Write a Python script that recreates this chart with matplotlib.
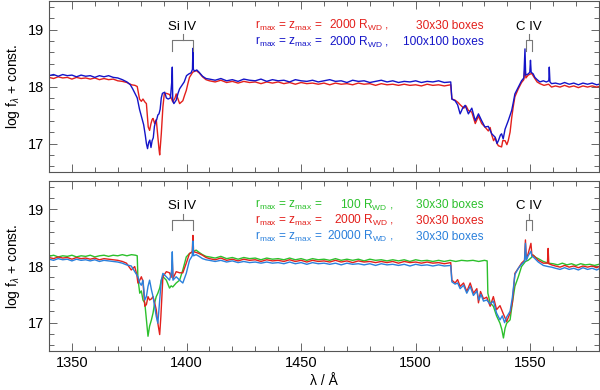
import numpy as np
import matplotlib
matplotlib.use("Agg")
import matplotlib.pyplot as plt
from matplotlib.ticker import MultipleLocator

plt.rcParams['font.family'] = ['Liberation Sans', 'DejaVu Sans']
plt.rcParams['mathtext.fontset'] = 'custom'
plt.rcParams['mathtext.rm'] = 'Liberation Sans'
plt.rcParams['mathtext.it'] = 'Liberation Sans:italic'
plt.rcParams['mathtext.bf'] = 'Liberation Sans:bold'

# ---------------- data (wavelength [A], log f) ----------------
TOP_RED = [(1340,18.16),(1342,18.14),(1344,18.17),(1346,18.15),(1348,18.16),(1350,18.13),(1352,18.16),(1354,18.14),(1356,18.15),(1358,18.13),(1360,18.15),(1362,18.12),(1364,18.14),(1366,18.12),(1368,18.13),(1370,18.10),(1372,18.09),(1374,18.07),(1376,18.03),(1377.5,18.02),(1378.5,18.00),(1379.5,17.78),(1380.3,17.74),(1381,17.78),(1381.8,17.73),(1382.5,17.70),(1383,17.45),(1383.3,17.29),(1383.9,17.23),(1384.5,17.35),(1385,17.42),(1385.4,17.44),(1386.1,17.35),(1386.8,17.42),(1387.5,17.11),(1388.0,16.90),(1388.3,16.80),(1388.7,17.00),(1389,17.17),(1389.7,17.64),(1390.3,17.87),(1391.2,17.88),(1392.6,17.86),(1393.3,17.80),(1394,17.73),(1395,17.80),(1395.5,17.87),(1396.3,17.78),(1397,17.70),(1398.4,17.75),(1399.2,17.85),(1399.9,17.93),(1400.6,18.05),(1401.3,18.16),(1402.7,18.25),(1404.2,18.28),(1405.5,18.24),(1407,18.17),(1408.5,18.12),
           (1410,18.10),(1412.5,18.08),(1415,18.11),(1417.5,18.07),(1420,18.09),(1422.5,18.06),(1425,18.09),(1427.5,18.07),(1430,18.08),(1432.5,18.05),(1435,18.08),(1437.5,18.06),(1440,18.08),(1442.5,18.05),(1445,18.07),(1447.5,18.04),(1450,18.07),(1452.5,18.05),(1455,18.06),(1457.5,18.04),(1460,18.06),(1462.5,18.03),(1465,18.06),(1467.5,18.04),(1470,18.05),(1472.5,18.03),(1475,18.06),(1477.5,18.04),(1480,18.05),(1482.5,18.02),(1485,18.05),(1487.5,18.03),(1490,18.04),(1492.5,18.02),(1495,18.04),(1497.5,18.02),(1500,18.03),(1502.5,18.01),(1505,18.04),(1507.5,18.02),(1510,18.03),(1512.5,18.01),(1515.3,18.03),
           (1515.8,17.78),(1517.2,17.76),(1518.5,17.72),(1519.4,17.68),(1521,17.62),(1522,17.66),(1523,17.58),(1524.5,17.55),(1526,17.35),(1527.4,17.48),(1528.8,17.35),(1530,17.30),(1531.7,17.22),(1532.5,17.28),(1533.2,17.15),(1534,17.05),(1534.7,17.10),(1535.5,17.00),(1536.1,16.96),(1537.5,16.94),(1538,17.05),(1539,17.05),(1539.8,16.98),(1540.4,17.05),(1541.2,17.20),(1541.9,17.45),(1542.6,17.65),(1543.3,17.82),(1544.8,17.96),(1546.2,18.07),(1547.2,18.12),(1547.7,18.34),(1548.1,18.15),(1549.1,18.20),(1550.6,18.23),(1552,18.14),(1553,18.08),(1554.2,18.05),(1556,18.02),(1558,18.04),(1559.3,17.99),
           (1561,18.01),(1563,17.99),(1565,18.02),(1567,17.99),(1569,18.01),(1571,17.98),(1573,18.01),(1575,17.99),(1577,18.01),(1579,17.99),(1580,18.00)]

TOP_BLUE = [(1340,18.19),(1342,18.21),(1344,18.18),(1346,18.21),(1348,18.19),(1350,18.20),(1352,18.17),(1354,18.20),(1356,18.18),(1358,18.19),(1360,18.16),(1362,18.19),(1364,18.17),(1366,18.19),(1368,18.16),(1370,18.15),(1372,18.12),
            (1374,18.08),(1375.5,18.03),(1376.5,17.96),(1377.5,17.88),(1378.5,17.80),(1379.5,17.60),(1380.5,17.45),(1381.3,17.33),(1382,17.15),(1382.5,17.00),(1383,16.91),(1383.5,17.02),(1384,17.06),(1384.5,16.93),(1385,17.05),(1385.5,17.10),(1386,17.30),(1386.5,17.38),(1387,17.42),(1387.5,17.50),(1388,17.52),(1388.5,17.60),(1389,17.80),(1389.5,17.88),(1390.5,17.90),(1391.2,17.80),(1392,17.78),(1393,17.80),(1393.6,18.10),(1393.8,18.34),(1394.0,17.75),(1394.5,17.70),(1395.5,17.76),(1396.3,17.88),(1397,17.96),(1398,18.02),(1399,18.08),(1400,18.19),(1401,18.22),(1402,18.24),(1402.6,18.30),(1402.8,18.67),(1403.0,18.30),(1403.5,18.27),(1404.5,18.29),(1405.5,18.25),(1407,18.18),(1408.5,18.14),
            (1410,18.13),(1412.5,18.11),(1415,18.14),(1417.5,18.10),(1420,18.12),(1422.5,18.09),(1425,18.13),(1427.5,18.11),(1430,18.10),(1432.5,18.13),(1435,18.09),(1437.5,18.12),(1440,18.10),(1442.5,18.11),(1445,18.08),(1447.5,18.12),(1450,18.10),(1452.5,18.09),(1455,18.11),(1457.5,18.08),(1460,18.10),(1462.5,18.12),(1465,18.09),(1467.5,18.10),(1470,18.07),(1472.5,18.11),(1475,18.09),(1477.5,18.10),(1480,18.07),(1482.5,18.09),(1485,18.11),(1487.5,18.08),(1490,18.10),(1492.5,18.07),(1495,18.09),(1497.5,18.08),(1500,18.10),(1502.5,18.07),(1505,18.09),(1507.5,18.08),(1510,18.10),(1512.5,18.07),(1515.3,18.08),
            (1515.8,17.78),(1517.2,17.75),(1518.3,17.68),(1519.4,17.52),(1520.5,17.62),(1521.6,17.67),(1523,17.52),(1524.5,17.62),(1526,17.40),(1527.4,17.52),(1528.8,17.40),(1530.2,17.29),(1531.7,17.30),(1533.2,17.17),(1534.7,17.11),(1535.5,17.00),(1536.1,17.05),(1537,17.15),(1537.5,17.17),(1538.2,17.08),(1539,17.25),(1540.4,17.40),(1541.9,17.58),(1542.6,17.72),(1543.3,17.87),(1544.8,17.99),(1546.2,18.10),(1547.2,18.15),(1547.7,18.66),(1548,18.20),(1549.1,18.22),(1549.8,18.25),(1550.1,18.46),(1550.4,18.25),(1551.3,18.22),(1552,18.16),(1553,18.12),(1554.2,18.08),(1555.7,18.10),(1557,18.08),(1558.1,18.10),(1558.3,18.34),(1558.6,18.08),(1559.3,18.05),
            (1561,18.06),(1563,18.04),(1565,18.07),(1567,18.04),(1569,18.06),(1571,18.03),(1573,18.06),(1575,18.04),(1577,18.06),(1579,18.03),(1580,18.04)]

BOT_GREEN = [(1340,18.17),(1342,18.19),(1344,18.16),(1346,18.18),(1348,18.17),(1350,18.19),(1352,18.16),(1354,18.18),(1356,18.17),(1358,18.19),(1360,18.16),(1362,18.18),(1364,18.19),(1366,18.17),(1368,18.19),(1370,18.18),(1372,18.20),(1374,18.18),(1376,18.20),(1377.8,18.19),(1378.5,18.18),(1378.8,17.78),(1379.6,17.52),(1380.3,17.56),(1381,17.40),(1381.8,17.35),(1382.5,17.05),(1383.2,16.76),(1383.9,16.94),(1384.7,17.05),(1385.4,17.17),(1386.1,17.35),(1386.8,17.46),(1387.5,17.52),(1388.3,17.61),(1389,17.75),(1389.7,17.81),(1390.5,17.78),(1391.2,17.75),(1392.6,17.61),(1393.3,17.65),(1394,17.63),(1395.5,17.70),(1397,17.75),(1398.4,17.93),(1399.9,18.16),(1401.3,18.22),(1402.7,18.25),(1404.2,18.28),(1405.5,18.24),(1407,18.20),(1408.5,18.17),
             (1410,18.16),(1412.5,18.14),(1415,18.17),(1417.5,18.13),(1420,18.15),(1422.5,18.12),(1425,18.15),(1427.5,18.13),(1430,18.14),(1432.5,18.11),(1435,18.14),(1437.5,18.12),(1440,18.13),(1442.5,18.11),(1445,18.14),(1447.5,18.11),(1450,18.13),(1452.5,18.10),(1455,18.13),(1457.5,18.11),(1460,18.12),(1462.5,18.10),(1465,18.13),(1467.5,18.10),(1470,18.12),(1472.5,18.10),(1475,18.12),(1477.5,18.09),(1480,18.12),(1482.5,18.10),(1485,18.11),(1487.5,18.09),(1490,18.11),(1492.5,18.09),(1495,18.11),(1497.5,18.08),(1500,18.11),(1502.5,18.09),(1505,18.10),(1507.5,18.08),(1510,18.10),(1512.5,18.08),(1515,18.10),(1517.5,18.08),(1520,18.10),(1522.5,18.09),(1525,18.10),(1527.5,18.08),(1530,18.10),(1531.2,18.09),
             (1531.5,17.52),(1532.5,17.35),(1533.9,17.29),(1535.3,17.12),(1536.8,16.99),(1537.6,16.88),(1538.3,16.73),(1539,16.90),(1539.7,16.99),(1541.2,17.05),(1542.2,17.35),(1543.3,17.64),(1544.8,17.81),(1546.2,17.99),(1547.9,18.08),(1549.1,18.10),(1550.5,18.15),(1551.3,18.19),(1552.5,18.15),(1553.5,18.13),(1555.7,18.08),(1557.8,18.05),
             (1560,18.04),(1562,18.02),(1564,18.05),(1566,18.02),(1568,18.04),(1570,18.01),(1572,18.04),(1574,18.02),(1576,18.03),(1578,18.01),(1580,18.03)]

BOT_RED = [(1340,18.15),(1342,18.13),(1344,18.16),(1346,18.14),(1348,18.15),(1350,18.12),(1352,18.15),(1354,18.13),(1356,18.14),(1358,18.12),(1360,18.14),(1362,18.11),(1364,18.13),(1366,18.12),(1368,18.11),(1370,18.10),(1372,18.08),(1373.8,18.05),(1375.9,17.93),(1377.4,17.99),(1378.3,17.85),(1378.8,17.70),(1379.6,17.75),(1380.3,17.81),(1381,17.73),(1381.8,17.29),(1382.5,17.32),(1383.2,17.46),(1383.9,17.40),(1384.7,17.42),(1385.4,17.46),(1386.1,17.35),(1386.8,17.23),(1387.5,16.99),(1388.3,16.79),(1388.8,17.10),(1389.3,17.50),(1389.7,17.81),(1391.2,17.90),(1392.6,17.88),(1393.3,17.80),(1393.8,18.10),(1394.1,17.78),(1395.5,17.90),(1397,17.88),(1398.4,17.88),(1399.9,18.05),(1401.3,18.22),(1402.5,18.25),(1402.8,18.54),(1403.1,18.25),(1404.2,18.24),(1405.5,18.22),(1407,18.19),(1408.5,18.15),
           (1410,18.13),(1412.5,18.11),(1415,18.14),(1417.5,18.10),(1420,18.12),(1422.5,18.09),(1425,18.12),(1427.5,18.10),(1430,18.11),(1432.5,18.08),(1435,18.11),(1437.5,18.09),(1440,18.10),(1442.5,18.08),(1445,18.11),(1447.5,18.08),(1450,18.10),(1452.5,18.07),(1455,18.10),(1457.5,18.08),(1460,18.09),(1462.5,18.07),(1465,18.10),(1467.5,18.07),(1470,18.09),(1472.5,18.06),(1475,18.09),(1477.5,18.07),(1480,18.08),(1482.5,18.06),(1485,18.08),(1487.5,18.06),(1490,18.08),(1492.5,18.05),(1495,18.08),(1497.5,18.06),(1500,18.07),(1502.5,18.05),(1505,18.07),(1507.5,18.05),(1510,18.06),(1512.5,18.04),(1515.3,18.06),
           (1515.8,17.75),(1517.2,17.70),(1518.3,17.76),(1519.4,17.64),(1520.9,17.70),(1522.3,17.55),(1523.8,17.70),(1525.2,17.52),(1526.7,17.60),(1527.4,17.35),(1528.3,17.55),(1529.6,17.42),(1531,17.45),(1532.5,17.29),(1533.9,17.46),(1535.3,17.23),(1536.8,17.30),(1538.3,17.15),(1539.7,17.02),(1541.2,17.17),(1542.2,17.35),(1543.3,17.87),(1544.8,17.96),(1546.2,18.05),(1547.5,18.10),(1547.9,18.46),(1548.3,18.12),(1549.1,18.22),(1550.3,18.40),(1550.7,18.20),(1551.3,18.19),(1553.5,18.10),(1555.7,18.05),(1557.5,18.05),(1557.8,18.31),(1558.1,18.04),(1559.3,18.02),
           (1561,18.00),(1563,17.98),(1565,18.01),(1567,17.98),(1569,18.00),(1571,17.97),(1573,18.00),(1575,17.98),(1577,18.00),(1579,17.97),(1580,17.99)]

BOT_BLUE = [(1340,18.12),(1342,18.10),(1344,18.13),(1346,18.11),(1348,18.12),(1350,18.09),(1352,18.12),(1354,18.10),(1356,18.11),(1358,18.09),(1360,18.11),(1362,18.08),(1364,18.10),(1366,18.09),(1368,18.08),(1370,18.07),(1372,18.05),(1373.8,18.02),(1375.9,18.00),(1377.4,17.90),(1378.8,17.81),(1379.6,17.70),(1380.3,17.66),(1381,17.75),(1381.8,17.40),(1382.5,17.46),(1383.2,17.64),(1383.9,17.75),(1384.7,17.58),(1385.4,17.46),(1386.1,17.29),(1386.8,17.11),(1387.5,16.99),(1388.3,17.40),(1389,17.75),(1389.7,17.87),(1391.2,17.81),(1392.6,17.75),(1393.5,17.90),(1393.8,18.25),(1394.1,17.75),(1395.5,17.81),(1397,17.75),(1398.4,17.70),(1399.9,17.87),(1401.3,18.10),(1402.5,18.18),(1402.8,18.44),(1403.1,18.18),(1404.2,18.20),(1405.5,18.17),(1407,18.13),(1408.5,18.11),
            (1410,18.10),(1412.5,18.08),(1415,18.10),(1417.5,18.07),(1420,18.09),(1422.5,18.06),(1425,18.08),(1427.5,18.06),(1430,18.07),(1432.5,18.05),(1435,18.07),(1437.5,18.05),(1440,18.06),(1442.5,18.04),(1445,18.07),(1447.5,18.04),(1450,18.06),(1452.5,18.03),(1455,18.06),(1457.5,18.04),(1460,18.05),(1462.5,18.03),(1465,18.05),(1467.5,18.02),(1470,18.05),(1472.5,18.03),(1475,18.04),(1477.5,18.02),(1480,18.04),(1482.5,18.01),(1485,18.04),(1487.5,18.02),(1490,18.03),(1492.5,18.01),(1495,18.03),(1497.5,18.00),(1500,18.03),(1502.5,18.01),(1505,18.02),(1507.5,18.00),(1510,18.02),(1512.5,18.00),(1515.3,18.01),
            (1515.8,17.72),(1517.2,17.68),(1518.3,17.70),(1519.4,17.60),(1520.9,17.66),(1522.3,17.52),(1523.8,17.64),(1525.2,17.48),(1526.7,17.56),(1527.6,17.40),(1528.5,17.50),(1529.6,17.38),(1531,17.40),(1532.5,17.33),(1533.9,17.38),(1535.3,17.17),(1536.8,17.05),(1537.8,17.12),(1538.8,17.00),(1539.7,17.10),(1541.2,17.20),(1542.2,17.45),(1543.3,17.85),(1544.8,17.96),(1546.2,18.03),(1547.5,18.08),(1547.9,18.40),(1548.3,18.10),(1549.1,18.18),(1550.3,18.26),(1550.7,18.17),(1551.3,18.16),(1553.5,18.07),(1555.7,18.01),(1557.8,17.99),(1559.3,17.98),
            (1561,17.96),(1563,17.94),(1565,17.97),(1567,17.94),(1569,17.96),(1571,17.93),(1573,17.97),(1575,17.94),(1577,17.96),(1579,17.93),(1580,17.95)]

SI_IV = (1393.76, 1402.77)
C_IV = (1548.20, 1550.77)

TOP_LABELS = [("2000", "30x30"), ("2000", "100x100")]
BOT_LABELS = [("100", "30x30"), ("2000", "30x30"), ("20000", "30x30")]

C_RED = "#e3201c"
C_DBLUE = "#1414c8"
C_GREEN = "#2cc02c"
C_LBLUE = "#2a80dc"

fig = plt.figure(figsize=(6.0, 3.9), dpi=100)
ax1 = fig.add_axes([49/600, 1 - 172/390, 550/600, 171/390])
ax2 = fig.add_axes([49/600, 1 - 351/390, 550/600, 170/390])

def plot_series(ax, data, color):
    arr = np.array(data)
    ax.plot(arr[:, 0], arr[:, 1], color=color, lw=1.0)

plot_series(ax1, TOP_RED, C_RED)
plot_series(ax1, TOP_BLUE, C_DBLUE)
plot_series(ax2, BOT_GREEN, C_GREEN)
plot_series(ax2, BOT_RED, C_RED)
plot_series(ax2, BOT_BLUE, C_LBLUE)

def bracket(ax, pair, label):
    a, b = pair
    kw = dict(color="#777777", lw=0.8)
    ax.plot([a, a, b, b], [18.63, 18.81, 18.81, 18.63], **kw)
    m = 0.5 * (a + b)
    ax.plot([m, m], [18.81, 18.92], **kw)
    ax.text(m, 19.0, label, ha="center", va="baseline", fontsize=9.5, color="black")

for ax in (ax1, ax2):
    ax.set_xlim(1340, 1580)
    ax.set_ylim(16.5, 19.5)
    ax.xaxis.set_major_locator(MultipleLocator(50))
    ax.xaxis.set_minor_locator(MultipleLocator(10))
    ax.yaxis.set_major_locator(MultipleLocator(1))
    ax.yaxis.set_minor_locator(MultipleLocator(0.2))
    ax.tick_params(which="both", direction="in", top=True, right=True,
                   color="#666666", labelsize=10.5, width=0.7)
    ax.tick_params(which="major", length=6)
    ax.tick_params(which="minor", length=3.5)
    for s in ax.spines.values():
        s.set_color("#555555")
        s.set_linewidth(0.8)
    bracket(ax, SI_IV, "Si IV")
    bracket(ax, C_IV, "C IV")

ax1.tick_params(labelbottom=False)

FS = 8.6
lhs = r"r$_{\rm max}$ = z$_{\rm max}$ ="
ys_top = [0.856, 0.758]
for (num, box), col, y in zip(TOP_LABELS, [C_RED, C_DBLUE], ys_top):
    tr = ax1.get_xaxis_transform()
    ax1.text(1430, y, lhs, transform=tr, color=col, fontsize=FS, va="center", ha="left")
    ax1.text(1488.5, y, num + r" R$_{\rm WD}$ ,", transform=tr, color=col, fontsize=FS, va="center", ha="right")
    ax1.text(1529.6, y, box + " boxes", transform=tr, color=col, fontsize=FS, va="center", ha="right")

ys_bot = [0.859, 0.766, 0.672]
for (num, box), col, y in zip(BOT_LABELS, [C_GREEN, C_RED, C_LBLUE], ys_bot):
    tr = ax2.get_xaxis_transform()
    ax2.text(1430, y, lhs, transform=tr, color=col, fontsize=FS, va="center", ha="left")
    ax2.text(1490.5, y, num + r" R$_{\rm WD}$ ,", transform=tr, color=col, fontsize=FS, va="center", ha="right")
    ax2.text(1529.6, y, box + " boxes", transform=tr, color=col, fontsize=FS, va="center", ha="right")

for yc in (1 - 86.5/390, 1 - 266/390):
    fig.text(13/600, yc, r"log f$_\lambda$ + const.", rotation=90, ha="center", va="center", fontsize=10)

ax2.set_xlabel("λ / Å", fontsize=10, labelpad=3)

fig.savefig("out.png", dpi=100)
